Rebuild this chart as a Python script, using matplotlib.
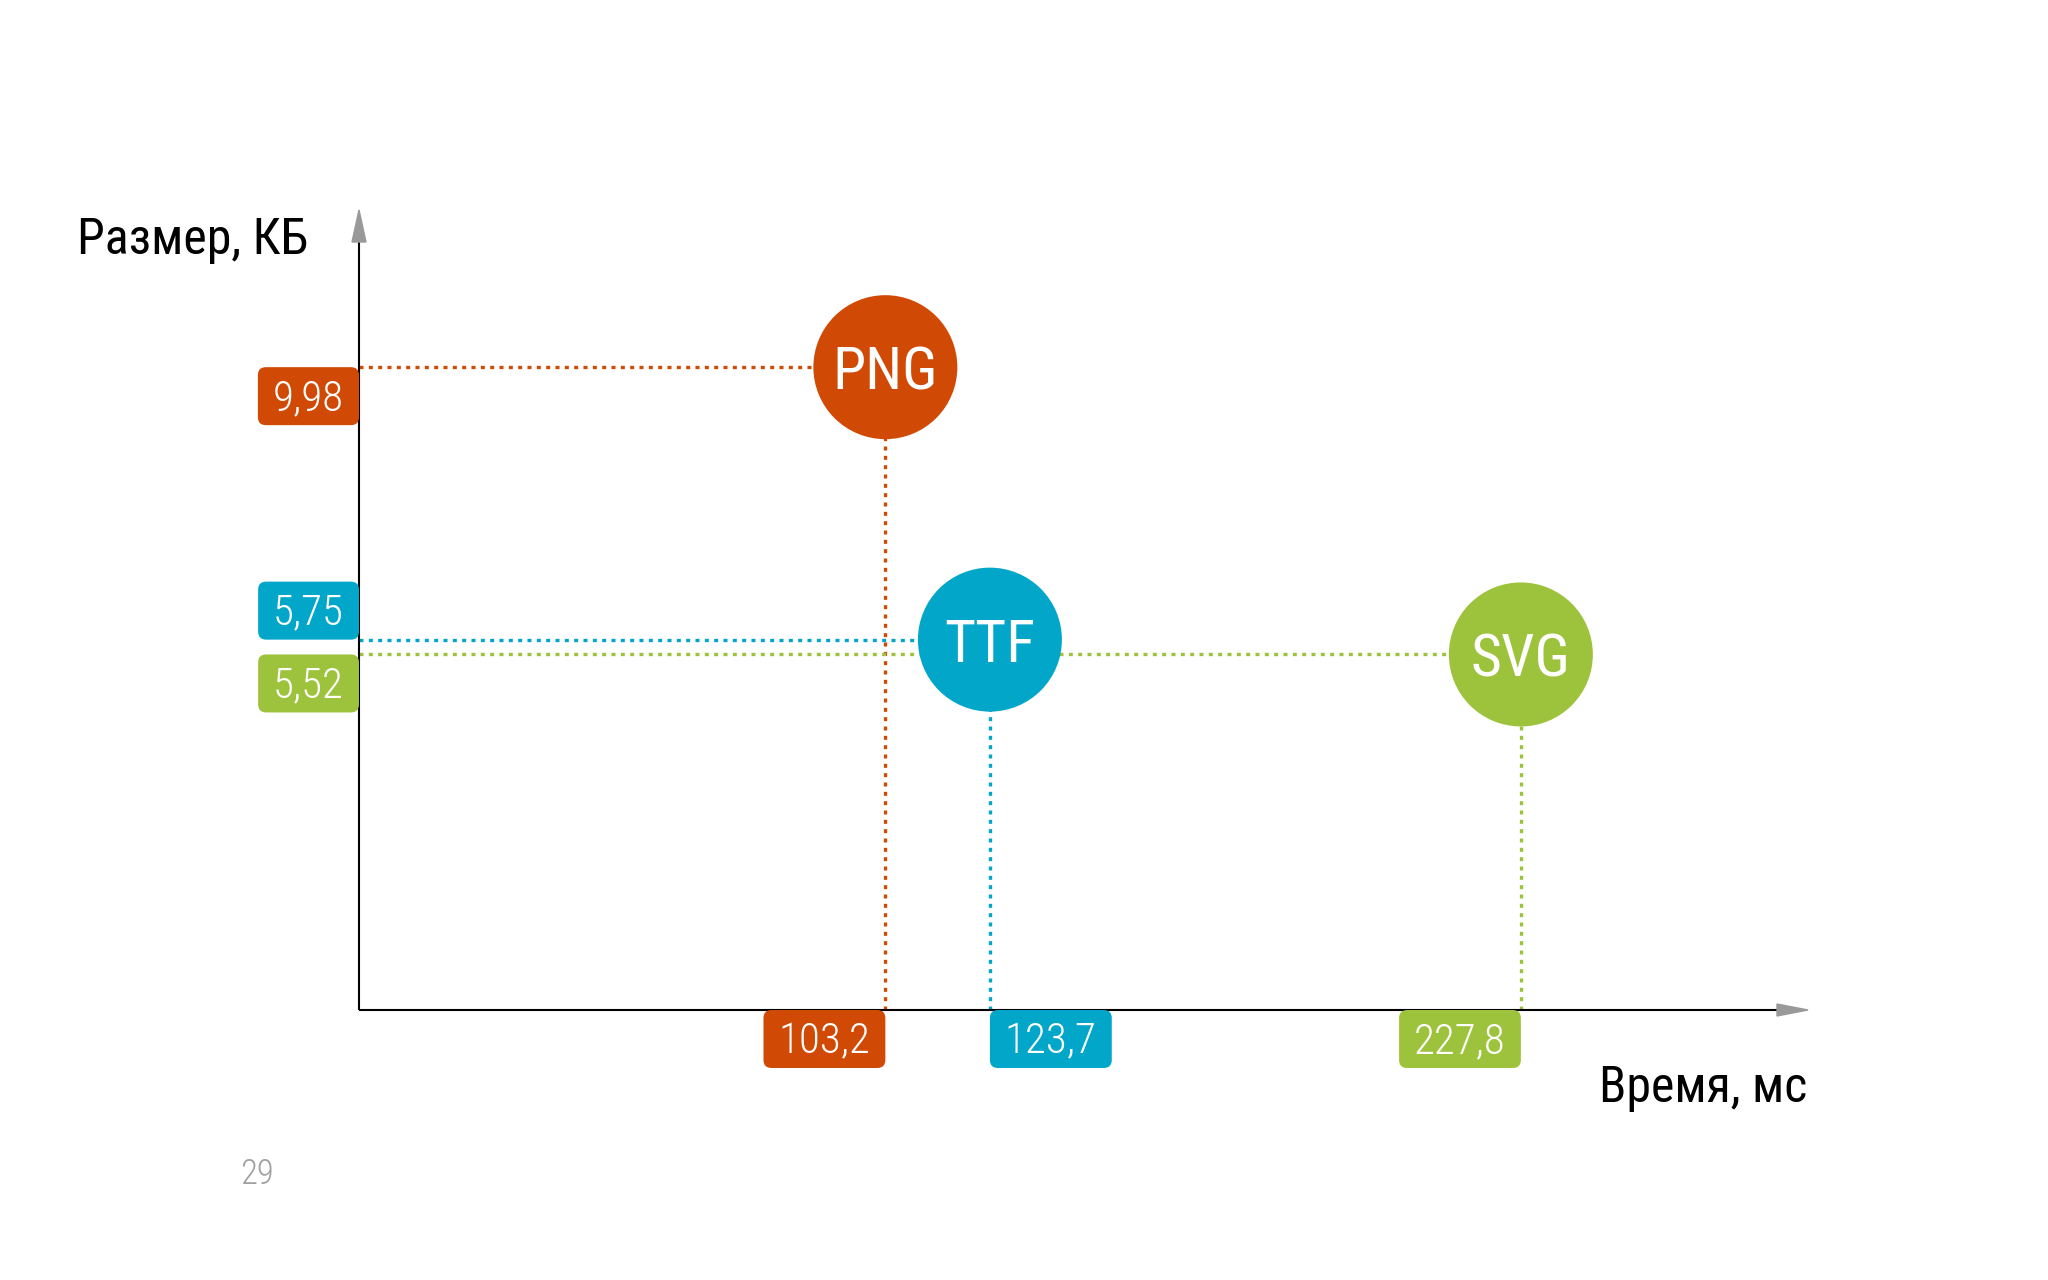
import matplotlib
matplotlib.use("Agg")
import matplotlib.pyplot as plt
from matplotlib import font_manager as fm
from matplotlib.patches import Polygon, BoxStyle

# ---- data ----
formats = ["PNG", "TTF", "SVG"]
time_ms = [103.2, 123.7, 227.8]
size_kb = [9.98, 5.75, 5.52]
time_labels = ["103,2", "123,7", "227,8"]
size_labels = ["9,98", "5,75", "5,52"]
colors = ["#D14A05", "#02A6C9", "#9DC33D"]
x_title = "Время, мс"
y_title = "Размер, КБ"
page_number = "29"

# ---- font ----
names = {f.name for f in fm.fontManager.ttflist}
FONT = "DejaVu Sans"
for cand in ["Roboto Condensed", "Liberation Sans Narrow", "Roboto"]:
    if cand in names:
        FONT = cand
        break
plt.rcParams["font.family"] = [FONT, "DejaVu Sans"]

W, H = 2048, 1280
fig = plt.figure(figsize=(W / 100, H / 100), dpi=100)
fig.patch.set_facecolor("white")

# axes placement in pixels
x0, y0 = 359, 1010      # origin
x1, y1 = 1808, 210      # arrow tips
ax = fig.add_axes([x0 / W, (H - y0) / H, (x1 - x0) / W, (y0 - y1) / H])
ax.set_xlim(0, 284.1)
ax.set_ylim(0, 12.42)
ax.axis("off")

aw, ah = x1 - x0, y0 - y1
ax.plot([0, 1 - 30 / aw], [0, 0], color="black", lw=1.5, transform=ax.transAxes,
        clip_on=False, solid_capstyle="butt", zorder=2)
ax.plot([0, 0], [0, 1 - 30 / ah], color="black", lw=1.5, transform=ax.transAxes,
        clip_on=False, solid_capstyle="butt", zorder=2)
ax.add_patch(Polygon([[1 - 31 / aw, 6 / ah], [1, 0], [1 - 31 / aw, -6 / ah]], closed=True,
                     transform=ax.transAxes, color="#999999", clip_on=False, zorder=2))
ax.add_patch(Polygon([[-7 / aw, 1 - 32 / ah], [0, 1], [7 / aw, 1 - 32 / ah]], closed=True,
                     transform=ax.transAxes, color="#999999", clip_on=False, zorder=2))

dot = (0, (1.2, 1.6))
for x, y, c in zip(time_ms, size_kb, colors):
    ax.plot([0, x], [y, y], color=c, lw=2.4, linestyle=dot, dash_capstyle="butt", zorder=1, clip_on=False)
    ax.plot([x, x], [0, y], color=c, lw=2.4, linestyle=dot, dash_capstyle="butt", zorder=1, clip_on=False)

# circles
ax.scatter(time_ms, size_kb, s=(144 * 0.72) ** 2, c=colors, linewidths=0, zorder=3, clip_on=False)
for x, y, name in zip(time_ms, size_kb, formats):
    ax.annotate(name, (x, y), xytext=(0, -16), textcoords="offset points",
                ha="center", va="baseline", color="white", fontsize=43, zorder=4)

# value boxes (custom padding, pixels)
FS = 31
PADX, PADT, PADB, RAD = 15, 11, 6, 8
def rbox(x0_, y0_, w_, h_, mutation_size):
    return BoxStyle.Round(pad=0, rounding_size=RAD)(x0_ - PADX, y0_ - PADB,
                                                   w_ + 2 * PADX, h_ + PADT + PADB, 1.0)

def box(c):
    return dict(boxstyle=rbox, fc=c, ec="none")

px2pt = 0.72
y_va = ["top", "bottom", "top"]
for lab, y, c, va in zip(size_labels, size_kb, colors, y_va):
    dy = -PADT * px2pt if va == "top" else PADB * px2pt
    ax.annotate(lab, (0, y), xytext=(-PADX * px2pt, dy), textcoords="offset points",
                ha="right", va=va, color="white", fontsize=FS, fontweight="light",
                bbox=box(c), zorder=5, annotation_clip=False)
x_ha = ["right", "left", "right"]
for lab, x, c, ha in zip(time_labels, time_ms, colors, x_ha):
    dx = -PADX * px2pt if ha == "right" else PADX * px2pt
    ax.annotate(lab, (x, 0), xytext=(dx, -PADT * px2pt), textcoords="offset points",
                ha=ha, va="top", color="white", fontsize=FS, fontweight="light",
                bbox=box(c), zorder=5, annotation_clip=False)

# titles
fig.text(308 / W, 1 - 254 / H, y_title, ha="right", va="baseline", fontsize=36, color="black")
fig.text(1807 / W, 1 - 1102 / H, x_title, ha="right", va="baseline", fontsize=36, color="black")
fig.text(240 / W, 1 - 1184 / H, page_number, ha="left", va="baseline", fontsize=25,
         color="#A0A0A0", fontweight="light")

fig.savefig("out.png", dpi=100, facecolor="white")
